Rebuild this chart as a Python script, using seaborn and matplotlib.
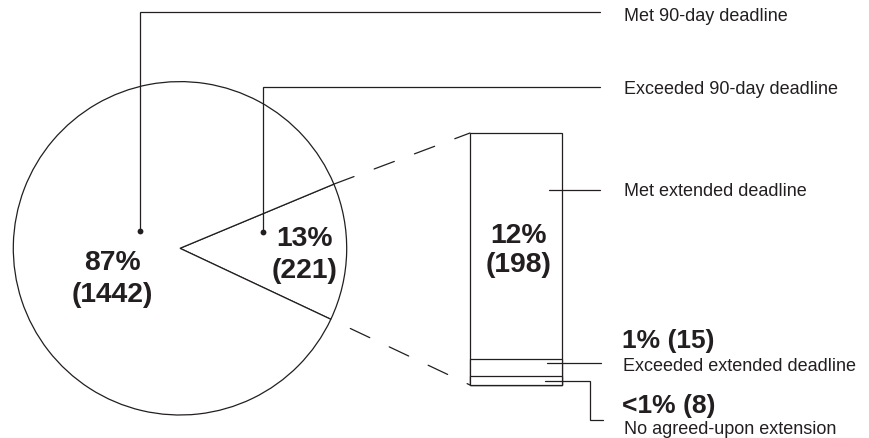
import numpy as np
import pandas as pd
import matplotlib
matplotlib.use("Agg")
import matplotlib.pyplot as plt
from matplotlib.patches import ConnectionPatch
import seaborn as sns

# Outcome against the 90-day deadline (the exceeded share is drawn first)
pie_labels = ["Exceeded 90-day deadline", "Met 90-day deadline"]
pie_counts = [221, 1442]
pie_pcts = ["13%", "87%"]

# Cases that exceeded the 90-day deadline, stacked bottom to top
bar_labels = ["No agreed-upon extension", "Exceeded extended deadline", "Met extended deadline"]
bar_counts = [8, 15, 198]
bar_pcts = ["<1%", "1%", "12%"]

sns.set_theme(style="white")
plt.rcParams["font.family"] = ["Liberation Sans", "DejaVu Sans"]

INK = "#231f20"
LW = 0.9
W, H = 870, 438
fig = plt.figure(figsize=(W / 100, H / 100), dpi=100)
fig.patch.set_facecolor("white")


def px_axes(x0, y0, x1, y1, **kw):
    """Axes placed by pixel box (top-left origin)."""
    return fig.add_axes([x0 / W, 1 - y1 / H, (x1 - x0) / W, (y1 - y0) / H], **kw)


# ---- pie ----
ax_pie = px_axes(13.3, 81.6, 346.7, 415)
start = -25.2
wedges, _ = ax_pie.pie(pie_counts, startangle=start, counterclock=True,
                       colors=["white", "white"],
                       wedgeprops=dict(edgecolor=INK, linewidth=LW))
for w in wedges:
    w.set_clip_on(False)
ax_pie.set_xlim(-1, 1)
ax_pie.set_ylim(-1, 1)
ax_pie.axis("off")
theta1 = wedges[0].theta1
theta2 = wedges[0].theta2

# ---- stacked bar of the exceeded cases ----
ax_bar = px_axes(470, 133, 562, 385)
df = pd.DataFrame({"segment": bar_labels, "top": np.cumsum(bar_counts)})
for _, row in df.sort_values("top", ascending=False).iterrows():
    sns.barplot(x=["exceeded"], y=[row["top"]], ax=ax_bar, width=1.0,
                color="white", edgecolor=INK, linewidth=LW, saturation=1,
                errorbar=None)
for p in ax_bar.patches:
    p.set_clip_on(False)
ax_bar.set_xlim(-0.5, 0.5)
ax_bar.set_ylim(0, df["top"].max())
ax_bar.axis("off")

# dashed guides from the exceeded wedge to the bar
dash = 15.5 / LW
for ang, corner, offset in ((theta2, df["top"].max(), 0), (theta1, 0, dash)):
    con = ConnectionPatch(xyA=(np.cos(np.radians(ang)), np.sin(np.radians(ang))),
                          coordsA=ax_pie.transData,
                          xyB=(-0.5, corner), coordsB=ax_bar.transData,
                          color=INK, linewidth=LW, linestyle=(offset, (dash, dash)))
    fig.add_artist(con)

# ---- overlay for labels and leader lines (pixel coordinates) ----
ov = fig.add_axes([0, 0, 1, 1], zorder=5)
ov.set_xlim(0, W)
ov.set_ylim(H, 0)
ov.axis("off")
ov.patch.set_alpha(0)

big = dict(fontsize=20.3, fontweight="bold", color=INK)
big_side = dict(fontsize=19, fontweight="bold", color=INK)
small = dict(fontsize=13, color=INK)

# values inside the pie and the bar
ov.text(112, 270, pie_pcts[1], ha="center", va="baseline", **big)
ov.text(112, 301.5, f"({pie_counts[1]})", ha="center", va="baseline", **big)
ov.text(305, 245.5, pie_pcts[0], ha="center", va="baseline", **big)
ov.text(305, 277.5, f"({pie_counts[0]})", ha="center", va="baseline", **big)
ov.text(519, 243, bar_pcts[2], ha="center", va="baseline", **big)
ov.text(519, 272, f"({bar_counts[2]})", ha="center", va="baseline", **big)

# leader lines
leaders = [
    [(140, 231), (140, 12), (600, 12)],
    [(263, 232), (263, 87), (600, 87)],
    [(549, 190), (600, 190)],
    [(547, 363), (601, 363)],
    [(545, 380.5), (590, 380.5), (590, 420), (603, 420)],
]
for pts in leaders:
    xs, ys = zip(*pts)
    ov.plot(xs, ys, color=INK, lw=LW, solid_joinstyle="miter")
ov.plot([140, 263], [231, 232], "o", color=INK, ms=4.2, mec="none")

# category names
ov.text(624, 20.7, pie_labels[1], ha="left", va="baseline", **small)
ov.text(624, 94.5, pie_labels[0], ha="left", va="baseline", **small)
ov.text(624, 196, bar_labels[2], ha="left", va="baseline", **small)
ov.text(622, 348, f"{bar_pcts[1]} ({bar_counts[1]})", ha="left", va="baseline", **big_side)
ov.text(623, 371, bar_labels[1], ha="left", va="baseline", **small)
ov.text(622, 413.5, f"{bar_pcts[0]} ({bar_counts[0]})", ha="left", va="baseline", **big_side)
ov.text(624, 433.5, bar_labels[0], ha="left", va="baseline", **small)

fig.savefig("out.png", dpi=100, facecolor="white")
